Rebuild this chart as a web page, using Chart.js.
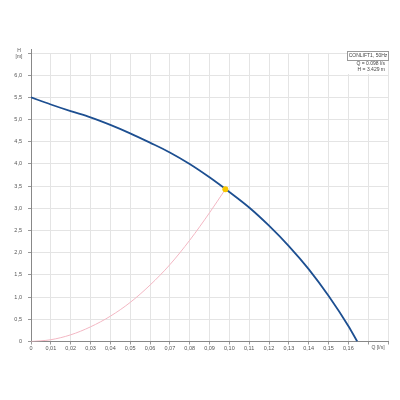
<!DOCTYPE html>
<html>
<head>
<script src="https://cdn.jsdelivr.net/npm/chart.js"></script>
<style>
  body { margin: 0; background: #fff; }
  #wrapper { width: 400px; height: 400px; }
</style>
</head>
<body>
<div id="wrapper">
  <canvas id="pump" width="400" height="400"></canvas>
</div>
<script>
  // pump curve (Q in l/s, H in m)
  var pumpQ = [0, 0.01, 0.02, 0.03, 0.04, 0.05, 0.06, 0.07, 0.08, 0.09, 0.10, 0.11, 0.12, 0.13, 0.14, 0.15, 0.16, 0.1645];
  var pumpH = [5.50, 5.34, 5.19, 5.05, 4.88, 4.69, 4.48, 4.26, 4.00, 3.70, 3.37, 3.02, 2.61, 2.15, 1.63, 1.03, 0.35, 0];

  // system curve
  var sysQ = [0, 0.01, 0.02, 0.03, 0.04, 0.05, 0.06, 0.07, 0.08, 0.09, 0.098];
  var sysH = [0, 0.04, 0.15, 0.33, 0.57, 0.88, 1.27, 1.73, 2.28, 2.90, 3.429];

  // duty point
  var dutyQ = [0.098];
  var dutyH = [3.429];

  var boxTitle = 'CONLIFT1, 50Hz';
  var boxLines = ['Q = 0.098 l/s', 'H = 3.429 m'];

  function pts(xs, ys) {
    return xs.map(function (x, i) { return { x: x, y: ys[i] }; });
  }

  var labelsPlugin = {
    id: 'labels',
    afterDraw: function (chart) {
      var ctx = chart.ctx;
      var area = chart.chartArea;
      ctx.save();
      // axis extension
      ctx.strokeStyle = '#888';
      ctx.lineWidth = 1;
      ctx.beginPath();
      ctx.moveTo(area.left + 0.5, area.top);
      ctx.lineTo(area.left + 0.5, area.top - 4);
      ctx.stroke();

      ctx.fillStyle = '#555';
      ctx.font = '5px "Liberation Sans", Arial, sans-serif';
      ctx.textAlign = 'center';
      ctx.textBaseline = 'middle';
      ctx.fillText('H', 19, 51);
      ctx.fillText('[m]', 19, 56.5);
      ctx.fillText('Q [l/s]', 378, 348);

      // info box
      var bx = 347, by = 51, bw = 41;
      ctx.fillStyle = '#fff';
      ctx.fillRect(bx, by, bw, 23);
      ctx.strokeStyle = '#999';
      ctx.strokeRect(bx + 0.5, by + 0.5, bw, 9);
      ctx.fillStyle = '#444';
      ctx.font = '5px "Liberation Sans", Arial, sans-serif';
      ctx.textAlign = 'center';
      ctx.fillText(boxTitle, bx + bw / 2 + 0.5, by + 5);
      ctx.textAlign = 'right';
      ctx.fillText(boxLines[0], bx + bw - 3, by + 13);
      ctx.fillText(boxLines[1], bx + bw - 3, by + 19);
      ctx.restore();
    }
  };

  var chart = new Chart('pump', {
    type: 'line',
    data: {
      datasets: [
        {
          data: pts(dutyQ, dutyH),
          showLine: false,
          pointRadius: 3,
          pointStyle: 'circle',
          backgroundColor: '#f7c600',
          borderColor: '#f7c600',
          borderWidth: 0,
          order: 0
        },
        {
          data: pts(pumpQ, pumpH),
          borderColor: '#1d4f91',
          borderWidth: 1.8,
          pointRadius: 0,
          fill: false,
          cubicInterpolationMode: 'monotone',
          order: 1
        },
        {
          data: pts(sysQ, sysH),
          borderColor: '#f3b7c3',
          borderWidth: 1,
          pointRadius: 0,
          fill: false,
          cubicInterpolationMode: 'monotone',
          order: 2
        }
      ]
    },
    options: {
      responsive: false,
      animation: false,
      layout: { padding: { top: 53, right: 12, left: 0, bottom: 0 } },
      plugins: {
        legend: { display: false },
        tooltip: { enabled: false }
      },
      scales: {
        x: {
          type: 'linear',
          min: 0,
          max: 0.18,
          afterFit: function (scale) { scale.height = 58.5; },
          grid: { color: '#e4e4e4', tickLength: 3, tickColor: '#999' },
          border: { color: '#888' },
          ticks: {
            stepSize: 0.01,
            autoSkip: false,
            maxRotation: 0,
            padding: 1,
            color: '#555',
            font: { size: 5.5, family: '"Liberation Sans", Arial, sans-serif' },
            callback: function (v) {
              var n = Math.round(v * 100);
              if (n === 0) return '0';
              if (n >= 17) return '';
              return (n / 100).toFixed(2).replace('.', ',');
            }
          }
        },
        y: {
          min: 0,
          max: 6.5,
          afterFit: function (scale) { scale.width = 31; },
          grid: { color: '#e4e4e4', tickLength: 3, tickColor: '#999' },
          border: { color: '#888' },
          ticks: {
            stepSize: 0.5,
            padding: 6,
            color: '#555',
            font: { size: 5.5, family: '"Liberation Sans", Arial, sans-serif' },
            callback: function (v) {
              var n = Math.round(v * 10);
              if (n === 0) return '0';
              if (n >= 65) return '';
              return (n / 10).toFixed(1).replace('.', ',');
            }
          }
        }
      }
    },
    plugins: [labelsPlugin]
  });
</script>
</body>
</html>
